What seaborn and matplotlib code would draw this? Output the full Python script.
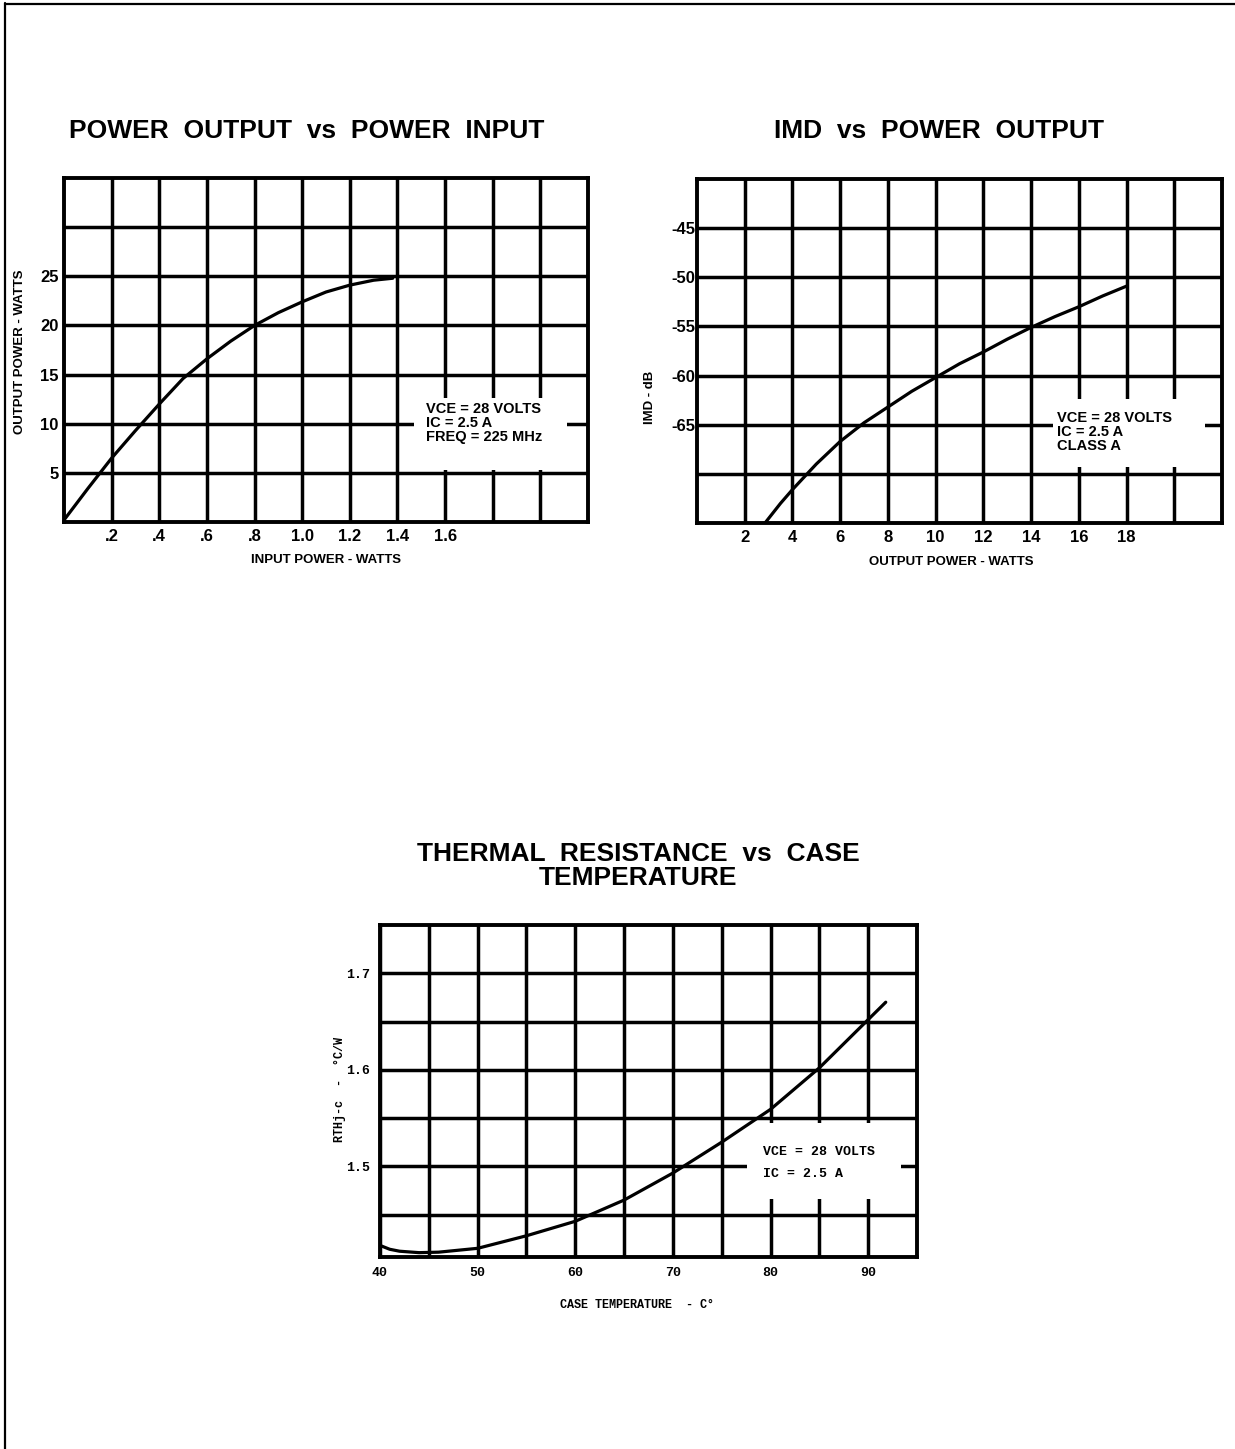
import matplotlib
matplotlib.use("Agg")
import matplotlib.pyplot as plt
import seaborn as sns
from matplotlib.patches import Rectangle
from matplotlib.lines import Line2D

# ---------------- data ----------------
# Chart 1: power output vs power input
pin_w = [0.0, 0.1, 0.2, 0.3, 0.4, 0.5, 0.6, 0.7, 0.8, 0.9, 1.0, 1.1, 1.2, 1.3, 1.38]
pout_w = [0.2, 3.4, 6.5, 9.3, 12.0, 14.6, 16.6, 18.4, 20.0, 21.3, 22.4, 23.4, 24.1, 24.6, 24.8]
c1_xgrid = [0.2, 0.4, 0.6, 0.8, 1.0, 1.2, 1.4, 1.6, 1.8, 2.0]
c1_xlabels = [".2", ".4", ".6", ".8", "1.0", "1.2", "1.4", "1.6", "", ""]
c1_ygrid = [5, 10, 15, 20, 25, 30]
c1_ylabels = ["5", "10", "15", "20", "25", ""]

# Chart 2: IMD vs power output
pout2_w = [2.85, 3.5, 4, 5, 6, 7, 8, 9, 10, 11, 12, 13, 14, 15, 16, 17, 18]
imd_db = [-75.0, -73.0, -71.6, -69.0, -66.7, -64.8, -63.2, -61.6, -60.2,
          -58.8, -57.6, -56.3, -55.1, -54.0, -53.0, -51.9, -50.9]
c2_xgrid = [2, 4, 6, 8, 10, 12, 14, 16, 18, 20]
c2_xlabels = ["2", "4", "6", "8", "10", "12", "14", "16", "18", ""]
c2_ygrid = [-70, -65, -60, -55, -50, -45]
c2_ylabels = ["", "-65", "-60", "-55", "-50", "-45"]

# Chart 3: thermal resistance vs case temperature
case_temp = [40, 41, 42, 44, 46, 48, 50, 55, 60, 65, 70, 75, 80, 85, 90, 91.8]
rth = [1.418, 1.414, 1.412, 1.4105, 1.411, 1.413, 1.415, 1.428, 1.443, 1.465,
       1.493, 1.525, 1.559, 1.602, 1.652, 1.670]
c3_xgrid = [40, 45, 50, 55, 60, 65, 70, 75, 80, 85, 90]
c3_xlabels = ["40", "", "50", "", "60", "", "70", "", "80", "", "90"]
c3_ygrid = [1.45, 1.5, 1.55, 1.6, 1.65, 1.7]
c3_ylabels = ["", "1.5", "", "1.6", "", "1.7"]

# ---------------- style ----------------
sns.set_style("white")
plt.rcParams["font.family"] = ["Liberation Sans", "DejaVu Sans"]
plt.rcParams.update({"text.color": "black", "axes.labelcolor": "black",
                     "xtick.color": "black", "ytick.color": "black"})

W, H = 1235, 1449
fig = plt.figure(figsize=(W / 100, H / 100), dpi=100)
fig.patch.set_facecolor("white")

NARROW = ["Liberation Sans", "DejaVu Sans"]
MONO = ["Liberation Mono", "DejaVu Sans Mono"]
GRID_LW = 2.5
CURVE_LW = 2.3


def axes_px(left, top, right, bottom):
    return fig.add_axes([left / W, 1 - bottom / H, (right - left) / W, (bottom - top) / H])


def style_axes(ax, xlim, ylim, xgrid, xlabels, ygrid, ylabels, family, tsize, xpad, ypad):
    ax.set_xlim(*xlim)
    ax.set_ylim(*ylim)
    ax.set_xticks(xgrid)
    ax.set_xticklabels(xlabels, family=family, fontweight="bold", fontsize=tsize)
    ax.set_yticks(ygrid)
    ax.set_yticklabels(ylabels, family=family, fontweight="bold", fontsize=tsize)
    ax.tick_params(axis="x", length=0, pad=xpad)
    ax.tick_params(axis="y", length=0, pad=ypad)
    ax.grid(True, color="black", linewidth=GRID_LW)
    ax.set_axisbelow(True)
    for s in ax.spines.values():
        s.set_color("black")
        s.set_linewidth(GRID_LW + 0.3)
        s.set_visible(True)
    ax.set_facecolor("white")


# ---------------- chart 1 ----------------
ax1 = axes_px(64, 178, 588, 522)
sns.lineplot(x=pin_w, y=pout_w, ax=ax1, color="black", linewidth=CURVE_LW, zorder=3)
style_axes(ax1, (0, 2.2), (0, 35), c1_xgrid, c1_xlabels, c1_ygrid, c1_ylabels,
           NARROW, 12, 5, 4)
ax1.add_patch(Rectangle((1.47, 5.3), 0.64, 7.3, facecolor="white", edgecolor="none", zorder=1))
ax1.text(1.52, 10.1, "VCE = 28 VOLTS\nIC = 2.5 A\nFREQ = 225 MHz", family=NARROW,
         fontweight="bold", fontsize=10.5, va="center", ha="left", linespacing=1.0, zorder=4)
ax1.set_xlabel("INPUT POWER - WATTS", family=NARROW, fontweight="bold", fontsize=9.5, va="center")
ax1.xaxis.set_label_coords(0.5, -0.11)
ax1.set_ylabel("OUTPUT POWER - WATTS", family=NARROW, fontweight="bold", fontsize=9.5, va="center")
ax1.yaxis.set_label_coords(-0.084, 0.494)

# ---------------- chart 2 ----------------
ax2 = axes_px(697, 179, 1222, 523)
sns.lineplot(x=pout2_w, y=imd_db, ax=ax2, color="black", linewidth=CURVE_LW, zorder=3)
style_axes(ax2, (0, 22), (-75, -40), c2_xgrid, c2_xlabels, c2_ygrid, c2_ylabels,
           NARROW, 12, 5, 1)
ax2.add_patch(Rectangle((14.9, -69.3), 6.4, 6.9, facecolor="white", edgecolor="none", zorder=1))
ax2.text(15.1, -65.7, "VCE = 28 VOLTS\nIC = 2.5 A\nCLASS A", family=NARROW,
         fontweight="bold", fontsize=10.5, va="center", ha="left", linespacing=1.0, zorder=4)
ax2.set_xlabel("OUTPUT POWER - WATTS", family=NARROW, fontweight="bold", fontsize=9.5, va="center")
ax2.xaxis.set_label_coords(0.484, -0.113)
ax2.set_ylabel("IMD - dB", family=NARROW, fontweight="bold", fontsize=9.5, va="center")
ax2.yaxis.set_label_coords(-0.09, 0.366)

# ---------------- chart 3 ----------------
ax3 = axes_px(380, 925, 917, 1257)
sns.lineplot(x=case_temp, y=rth, ax=ax3, color="black", linewidth=CURVE_LW, zorder=3)
style_axes(ax3, (40, 95), (1.406, 1.75), c3_xgrid, c3_xlabels, c3_ygrid, c3_ylabels,
           MONO, 9.5, 7, 7)
ax3.add_patch(Rectangle((77.6, 1.466), 15.8, 0.079, facecolor="white", edgecolor="none", zorder=1))
ax3.text(79.2, 1.515, "VCE = 28 VOLTS", family=MONO, fontweight="bold", fontsize=9.5,
         va="center", ha="left", zorder=4)
ax3.text(79.2, 1.4925, "IC = 2.5 A", family=MONO, fontweight="bold", fontsize=9.5,
         va="center", ha="left", zorder=4)
ax3.set_xlabel("CASE TEMPERATURE  - C°", family=MONO, fontweight="bold", fontsize=8.5, va="center")
ax3.xaxis.set_label_coords(0.479, -0.145)
ax3.set_ylabel("RTHj-c  -  °C/W", family=MONO, fontweight="bold", fontsize=8.5, va="center")
ax3.yaxis.set_label_coords(-0.075, 0.506)

# ---------------- titles ----------------
TSIZE = 19
TFAM = ["Liberation Sans", "DejaVu Sans"]
fig.text(307 / W, 1 - 131 / H, "POWER  OUTPUT  vs  POWER  INPUT", ha="center", va="center",
         fontsize=TSIZE, fontweight="bold", family=TFAM)
fig.text(939 / W, 1 - 131 / H, "IMD  vs  POWER  OUTPUT", ha="center", va="center",
         fontsize=TSIZE, fontweight="bold", family=TFAM)
fig.text(638 / W, 1 - 866 / H, "THERMAL  RESISTANCE  vs  CASE\nTEMPERATURE", ha="center",
         va="center", multialignment="center", linespacing=0.97,
         fontsize=TSIZE, fontweight="bold", family=TFAM)

# ---------------- page border (left and top) ----------------
fig.add_artist(Line2D([4.5 / W, 4.5 / W], [0, 1 - 3 / H], color="black", linewidth=1.6,
                      transform=fig.transFigure))
fig.add_artist(Line2D([4.5 / W, 1], [1 - 3.5 / H, 1 - 3.5 / H], color="black", linewidth=1.6,
                      transform=fig.transFigure))

fig.savefig("out.png", dpi=100, facecolor="white")
